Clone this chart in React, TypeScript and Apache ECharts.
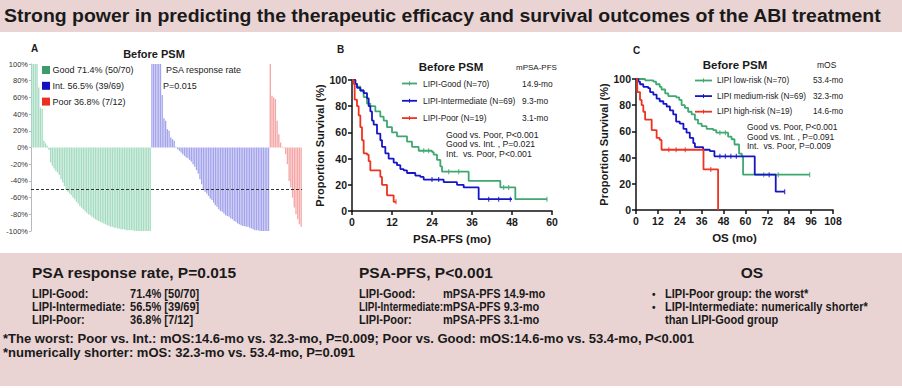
import React, { useEffect, useRef } from 'react';
import * as echarts from 'echarts';

const FONT = '"Liberation Sans", Arial, Helvetica, sans-serif';
const PINK = '#e9d3d3';
const TXT = '#1a1a1a';

const TITLE = 'Strong power in predicting the therapeutic efficacy and survival outcomes of the ABI treatment';

// Panel A: PSA change (%) per patient, waterfall
const goodChanges = [100, 100, 100, 100, 72, 48, 46, 8, 5, 2,
  -3, -18, -22, -25, -28, -30, -33, -38, -42, -46,
  -51, -53, -55, -57, -60, -62, -65, -67, -70, -72,
  -74, -76, -78, -80, -81, -83, -84, -86, -87, -88,
  -89, -90, -91, -92, -93, -94, -95, -95, -96, -96,
  -97, -97, -98, -98, -98, -99, -99, -99, -99, -99,
  -100, -100, -100, -100, -100, -100, -100, -100, -100, -100];
const intChanges = [100, 100, 100, 100, 100, 100, 63, 35, 32, 22, 20, 12, 10, 8,
  1, -2, -4, -6, -8, -10, -12, -13, -15, -17, -20, -23, -27, -31, -38, -44,
  -51, -53, -55, -58, -61, -63, -66, -69, -71, -74, -76, -77, -79, -81, -82, -83,
  -85, -86, -88, -89, -91, -92, -93, -94, -94, -95, -95, -96, -97, -98, -99, -99,
  -99, -100, -100, -100, -100, -100, -100];
const poorChanges = [100, 62, 60, 58, 32, 16, 6, 1, -1, -8, -20, -40, -48, -60, -72, -80, -86, -92, -95];
const yTicksA = { min: -100, max: 100, step: 20 };
const legendA = ['Good 71.4% (50/70)', 'Int. 56.5% (39/69)', 'Poor 36.8% (7/12)'];

// Panel B: PSA-PFS Kaplan-Meier [month, survival %]
const pfsGood = [[0, 100], [1, 97], [1.5, 95], [2.5, 92], [3.5, 87], [4.5, 82], [5.5, 80], [7, 76], [8.5, 72], [9.5, 69], [10.5, 64], [12, 60], [13.5, 57], [16.5, 53], [18, 49], [20, 46], [24, 45], [24.5, 43], [25.5, 39], [26.5, 34], [27, 30], [35, 23], [44.5, 18], [49, 9], [58.5, 9]];
const pfsInt = [[0, 100], [1, 97], [1.5, 94], [2.5, 92], [3.5, 90], [4.5, 86], [5, 80], [5.5, 76], [6, 69], [6.5, 66], [7.5, 59], [8.5, 54], [9, 49], [10, 44], [11, 40], [12.5, 37], [13.5, 35], [14.5, 32], [15.5, 31], [16.5, 29], [19, 27], [20.5, 26], [21.5, 24], [27.5, 22], [31.5, 20], [33.5, 18], [38, 9], [48, 9]];
const pfsPoor = [[0, 100], [0.5, 97], [0.8, 85], [1.5, 80], [2, 73], [2.5, 64], [3, 54], [3.5, 44], [4.5, 43], [5, 38], [5.5, 31], [8.5, 26], [9, 20], [10.5, 12], [12.5, 7], [13.2, 7]];
const pfsGoodCensor = [[21.5, 46], [23, 46], [29, 30], [32, 30], [45.5, 18], [47, 18], [58.5, 9]];
const pfsIntCensor = [[24, 24], [26, 24], [41, 9], [44, 9], [47.5, 9]];
const pfsPoorCensor = [[13.2, 7]];
const legendB = ['LIPI-Good (N=70)', 'LIPI-Intermediate (N=69)', 'LIPI-Poor (N=19)'];
const medB = ['14.9-mo', '9.3-mo', '3.1-mo'];
const pB = ['Good vs. Poor, P<0.001', 'Good vs. Int. , P=0.021', 'Int.  vs. Poor, P<0.001'];

// Panel C: OS Kaplan-Meier
const osGood = [[0, 100], [5, 99], [9.5, 98], [11, 96], [13, 94], [14, 92], [16, 89], [17.7, 87], [22, 86], [23.7, 84], [25, 80], [26.8, 78], [28.6, 75], [30.5, 73], [32.3, 69], [34, 66], [36, 64], [38.7, 62], [42.3, 61], [44, 59], [50.5, 56], [52.4, 54], [54, 50], [56.5, 43], [58, 41], [58.7, 27], [95.2, 27]];
const osInt = [[0, 100], [1.3, 98], [2.2, 96], [4, 94], [6.7, 93], [7.7, 90], [9.5, 88], [11.3, 85], [13, 83], [15, 81], [16.8, 79], [18.6, 76], [20.4, 73], [22, 67.5], [24, 66], [26, 62], [27.7, 59], [29.5, 55], [31.4, 51], [32.3, 48], [36.8, 46], [40.5, 45], [43, 41], [65.1, 27], [76.6, 14], [81.5, 14]];
const osPoor = [[0, 100], [0.7, 90], [2.2, 84], [3.1, 80], [4, 75], [5, 69], [8.6, 61], [11.3, 55], [13, 53.5], [14, 46], [37, 31], [45, 0]];
const osGoodCensor = [[46, 59], [49, 59], [70, 27], [78, 27], [95.2, 27]];
const osIntCensor = [[46, 41], [49, 41], [52, 41], [55, 41], [73, 27], [81.5, 14]];
const osPoorCensor = [[18, 46], [22, 46], [27, 46], [41, 31]];
const legendC = ['LIPI low-risk (N=70)', 'LIPI medium-risk (N=69)', 'LIPI high-risk (N=19)'];
const medC = ['53.4-mo', '32.3-mo', '14.6-mo'];
const pC = ['Good vs. Poor, P<0.001', 'Good vs. Int. , P=0.091', 'Int.  vs. Poor, P=0.009'];

// Summary texts
const sumRate = [['LIPI-Good:', '71.4% [50/70]'], ['LIPI-Intermediate:', '56.5% [39/69]'], ['LIPI-Poor:', '36.8% [7/12]']];
const sumPfs = [['LIPI-Good:', 'mPSA-PFS 14.9-mo'], ['LIPI-Intermediate:', 'mPSA-PFS 9.3-mo'], ['LIPI-Poor:', 'mPSA-PFS 3.1-mo']];
const sumOs = ['LIPI-Poor group: the worst*', 'LIPI-Intermediate: numerically shorter*', 'than LIPI-Good group'];
const notes = ['*The worst: Poor vs. Int.: mOS:14.6-mo vs. 32.3-mo, P=0.009; Poor vs. Good: mOS:14.6-mo vs. 53.4-mo, P<0.001',
  '*numerically shorter: mOS: 32.3-mo vs. 53.4-mo, P=0.091'];

const BAR_COLORS = ['#a6dcc2', '#a4a4ec', '#f5a6a6'];
const KEY_COLORS = ['#3d9a6a', '#1212c0', '#e8321f'];
const LINE_COLORS = ['#3fa870', '#1616c8', '#ee3322'];

const text = (x: number, y: number, t: string, size: number, opts: any = {}) => ({
  type: 'text', x, y, silent: true, scaleX: opts.scaleX ?? 1,
  style: {
    text: t, fontSize: size, fontFamily: FONT, fontWeight: opts.bold ? 'bold' : 'normal',
    fill: opts.fill ?? TXT, textAlign: opts.align ?? 'left', textVerticalAlign: 'middle',
  },
});

function measure(t: string, font: string) {
  const c = document.createElement('canvas').getContext('2d');
  if (!c) return 0;
  c.font = font;
  return c.measureText(t).width;
}

export default function App() {
  const ref = useRef<HTMLDivElement>(null);
  useEffect(() => {
    if (!ref.current) return;
    const chart = echarts.init(ref.current, undefined, { renderer: 'svg' });

    const groups = [goodChanges, intChanges, poorChanges];
    const barData: any[] = [];
    groups.forEach((g, gi) => g.forEach((v) => barData.push({ value: v, itemStyle: { color: BAR_COLORS[gi] } })));
    const cats = barData.map((_, i) => String(i + 1));

    const titleW = measure(TITLE, `bold 19px ${FONT}`) || 900;
    const titleScale = 878 / titleW;
    const interW = measure('LIPI-Intermediate:', `bold 12px ${FONT}`) || 100;
    const noteW = measure(notes[0], `bold 13px ${FONT}`) || 690;
    const noteScale = 692 / noteW;
    const BODY = 0.92;

    const kmAxisX = (max: number, name: string, grid: number) => ({
      type: 'value', gridIndex: grid, min: 0, max, interval: 12,
      name, nameLocation: 'middle', nameGap: 22,
      nameTextStyle: { fontFamily: FONT, fontWeight: 'bold', fontSize: 11.5, color: TXT },
      axisLine: { show: true, lineStyle: { color: '#111', width: 1.5 } },
      axisTick: { show: true, length: 4, lineStyle: { color: '#111', width: 1.5 } },
      axisLabel: { fontFamily: FONT, fontWeight: 'bold', fontSize: 10.5, color: TXT, margin: 5 },
      splitLine: { show: false },
    });
    const kmAxisY = (grid: number) => ({
      type: 'value', gridIndex: grid, min: 0, max: 100, interval: 20,
      name: 'Proportion Survival (%)', nameLocation: 'middle', nameGap: 25, nameRotate: 90,
      nameTextStyle: { fontFamily: FONT, fontWeight: 'bold', fontSize: 11, color: TXT },
      axisLine: { show: true, lineStyle: { color: '#111', width: 1.5 } },
      axisTick: { show: true, length: 4, lineStyle: { color: '#111', width: 1.5 } },
      axisLabel: { fontFamily: FONT, fontWeight: 'bold', fontSize: 10.5, color: TXT, margin: 5 },
      splitLine: { show: false },
    });
    const km = (data: number[][], color: string, axis: number) => ({
      type: 'line', xAxisIndex: axis, yAxisIndex: axis, data, step: 'end',
      showSymbol: false, symbol: 'none', lineStyle: { color, width: 1.8 }, itemStyle: { color },
      silent: true,
    });
    const censor = (data: number[][], color: string, axis: number) => ({
      type: 'scatter', xAxisIndex: axis, yAxisIndex: axis, data, symbol: 'rect', symbolSize: [1.2, 5],
      itemStyle: { color }, silent: true,
    });

    const graphic: any[] = [
      { type: 'rect', shape: { x: 0, y: 0, width: 902, height: 32 }, style: { fill: PINK }, silent: true },
      { type: 'rect', shape: { x: 0, y: 253, width: 902, height: 133 }, style: { fill: PINK }, silent: true },
      text(4, 16, TITLE, 19, { bold: true, scaleX: titleScale }),
      text(31, 48, 'A', 10, { bold: true }),
      text(337, 49, 'B', 10, { bold: true }),
      text(633, 50, 'C', 10, { bold: true }),
      text(154, 54, 'Before PSM', 11, { bold: true, align: 'center' }),
      text(451, 67, 'Before PSM', 11.5, { bold: true, align: 'center' }),
      text(735, 65, 'Before PSM', 11.5, { bold: true, align: 'center' }),
      text(166, 70, 'PSA response rate', 9),
      text(163, 86, 'P=0.015', 9),
      text(516, 67, 'mPSA-PFS', 8),
      text(817, 65, 'mOS', 8.5),
    ];
    legendA.forEach((t, i) => {
      graphic.push({ type: 'rect', shape: { x: 42, y: 66 + i * 15.8, width: 8, height: 8 }, style: { fill: KEY_COLORS[i] }, silent: true });
      graphic.push(text(52.5, 70 + i * 15.8, t, 9));
    });
    const kmLegend = (x0: number, x1: number, y0: number, dy: number, labels: string[], tx: number, meds: string[], mx: number, fs: number) => {
      labels.forEach((t, i) => {
        const y = y0 + i * dy;
        graphic.push({ type: 'line', shape: { x1: x0, y1: y, x2: x1, y2: y }, style: { stroke: LINE_COLORS[i], lineWidth: 1.8 }, silent: true });
        graphic.push({ type: 'line', shape: { x1: (x0 + x1) / 2, y1: y - 2, x2: (x0 + x1) / 2, y2: y + 2 }, style: { stroke: LINE_COLORS[i], lineWidth: 1 }, silent: true });
        graphic.push(text(tx, y, t, fs));
        graphic.push(text(mx, y, meds[i], fs));
      });
    };
    kmLegend(402, 417, 83.5, 17.3, legendB, 423, medB, 522, 8.4);
    kmLegend(695, 712, 80.5, 15.6, legendC, 717, medC, 813, 8.2);
    pB.forEach((t, i) => graphic.push(text(446, 135 + i * 9.3, t, 8.7)));
    pC.forEach((t, i) => graphic.push(text(747, 127 + i * 9.5, t, 8.5)));

    // bottom summary
    const rowY = [294, 307, 320];
    graphic.push(text(32, 272, 'PSA response rate, P=0.015', 15.5, { bold: true }));
    sumRate.forEach((r, i) => {
      graphic.push(text(32, rowY[i], r[0], 12, { bold: true, scaleX: BODY }));
      graphic.push(text(130, rowY[i], r[1], 12, { bold: true, scaleX: BODY }));
    });
    graphic.push(text(359, 272, 'PSA-PFS, P<0.001', 15.5, { bold: true }));
    sumPfs.forEach((r, i) => {
      graphic.push(text(359, rowY[i], r[0], 12, { bold: true, scaleX: i === 1 ? 84 / interW : BODY }));
      graphic.push(text(443, rowY[i], r[1], 12, { bold: true, scaleX: BODY }));
    });
    graphic.push(text(752, 272, 'OS', 15.5, { bold: true, align: 'center' }));
    graphic.push(text(652, rowY[0], '•', 10, { bold: true }));
    graphic.push(text(652, rowY[1], '•', 10, { bold: true }));
    sumOs.forEach((t, i) => graphic.push(text(665, rowY[i], t, 12, { bold: true, scaleX: BODY })));
    graphic.push(text(3, 339, notes[0], 13, { bold: true, scaleX: noteScale }));
    graphic.push(text(3, 353, notes[1], 13, { bold: true, scaleX: noteScale }));

    chart.setOption({
      animation: false,
      backgroundColor: '#ffffff',
      grid: [
        { left: 31, top: 64, width: 271, height: 167 },
        { left: 352, top: 80, width: 200, height: 131 },
        { left: 636, top: 79, width: 197, height: 131 },
      ],
      xAxis: [
        { type: 'category', gridIndex: 0, data: cats, show: false, boundaryGap: true },
        kmAxisX(60, 'PSA-PFS (mo)', 1),
        kmAxisX(108, 'OS (mo)', 2),
      ],
      yAxis: [
        {
          type: 'value', gridIndex: 0, min: yTicksA.min, max: yTicksA.max, interval: yTicksA.step,
          axisLine: { show: true, lineStyle: { color: '#b8b8b8', width: 1 } },
          axisTick: { show: true, length: 2, lineStyle: { color: '#b8b8b8' } },
          axisLabel: { fontFamily: FONT, fontSize: 7.5, color: '#333', margin: 3, formatter: (v: number) => `${v}%` },
          splitLine: { show: false },
        },
        kmAxisY(1),
        kmAxisY(2),
      ],
      series: [
        {
          type: 'bar', xAxisIndex: 0, yAxisIndex: 0, data: barData, barCategoryGap: '22%', silent: true,
          markLine: {
            silent: true, symbol: ['none', 'none'], label: { show: false },
            lineStyle: { type: [3, 2], color: '#333', width: 1 },
            data: [{ yAxis: -50 }],
          },
        },
        km(pfsGood, LINE_COLORS[0], 1),
        km(pfsInt, LINE_COLORS[1], 1),
        km(pfsPoor, LINE_COLORS[2], 1),
        censor(pfsGoodCensor, LINE_COLORS[0], 1),
        censor(pfsIntCensor, LINE_COLORS[1], 1),
        censor(pfsPoorCensor, LINE_COLORS[2], 1),
        km(osGood, LINE_COLORS[0], 2),
        km(osInt, LINE_COLORS[1], 2),
        km(osPoor, LINE_COLORS[2], 2),
        censor(osGoodCensor, LINE_COLORS[0], 2),
        censor(osIntCensor, LINE_COLORS[1], 2),
        censor(osPoorCensor, LINE_COLORS[2], 2),
      ],
      graphic,
    });
    return () => chart.dispose();
  }, []);
  return <div ref={ref} style={{ position: 'fixed', left: 0, top: 0, width: 902, height: 388, background: '#fff' }} />;
}
